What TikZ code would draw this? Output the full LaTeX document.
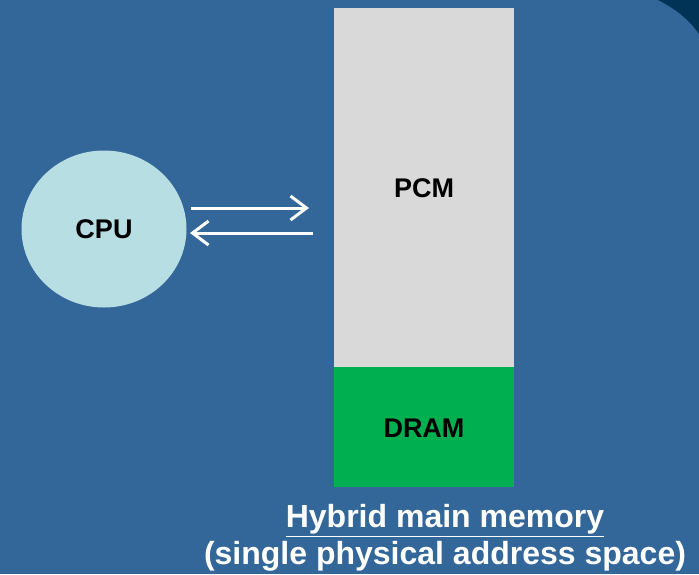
\documentclass[tikz,border=0pt]{standalone}
\usepackage{fontspec}
\setmainfont{Liberation Sans}
\usetikzlibrary{arrows.meta,shapes.geometric}
\definecolor{bgblue}{RGB}{51,102,153}
\definecolor{darkcorner}{RGB}{0,51,85}
\definecolor{pcmgray}{RGB}{217,217,217}
\definecolor{dramgreen}{RGB}{0,176,80}
\definecolor{cpublue}{RGB}{183,222,226}
\tikzset{
  lbl/.style={font=\fontsize{27}{30}\selectfont\bfseries, text=black},
  captiontext/.style={font=\fontsize{32}{37}\selectfont\bfseries, text=white, align=center},
  link/.style={draw=white, line width=3pt, -{Straight Barb[length=16pt,width=24pt,line width=3pt]}},
}
\begin{document}
\begin{tikzpicture}[x=1pt,y=-1pt]
  \useasboundingbox (0,0) rectangle (699,574);
  \fill[bgblue] (0,0) rectangle (699,574);
  % dark corner top right
  \fill[darkcorner] (658,0) .. controls (674,8) and (689,19) .. (699,34) -- (699,0) -- cycle;
  % memory column
  \node[fill=pcmgray, minimum width=180pt, minimum height=359pt, inner sep=0, anchor=north west] (pcm) at (334,8) {};
  \node[lbl] at (424,188) {PCM};
  \node[fill=dramgreen, minimum width=180pt, minimum height=120pt, inner sep=0, anchor=north west] (dram) at (334,367) {};
  \node[lbl] at (424,428) {DRAM};
  % processor
  \node[ellipse, fill=cpublue, minimum width=165pt, minimum height=157pt, inner sep=0, lbl] (cpu) at (104,229) {CPU};
  % request / response arrows
  \coordinate (r1) at (191,208);
  \coordinate (r2) at (309,208);
  \coordinate (s1) at (313,233);
  \coordinate (s2) at (190,233);
  \draw[link] (r1) -- (r2);
  \draw[link] (s1) -- (s2);
  % caption
  \node[captiontext] (caption) at (445,538) {\underline{Hybrid main memory}\\(single physical address space)};
\end{tikzpicture}
\end{document}
